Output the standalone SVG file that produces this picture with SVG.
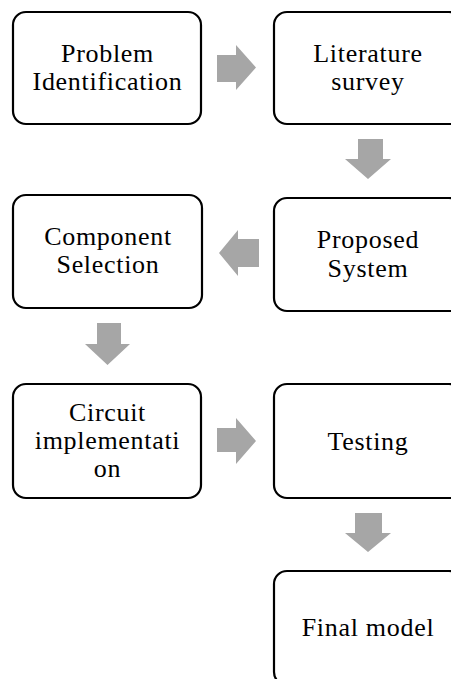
<svg xmlns="http://www.w3.org/2000/svg" width="451" height="679" viewBox="0 0 451 679">
<style>
.box{fill:#fff;stroke:#000;stroke-width:2.2}
.lbl{font-family:"Liberation Serif","Times New Roman",serif;font-size:26px;letter-spacing:0.7px;fill:#000;text-anchor:middle}
.arr{fill:#a6a6a6}
</style>
<rect width="451" height="679" fill="#fff"/>
<g id="connectors">
<polygon class="arr" points="217,55 236,55 236,45 256,67.5 236,90 236,82 217,82"/>
<polygon class="arr" points="358,139 383,139 383,159 391,159 368,179 345,159 358,159"/>
<polygon class="arr" points="259,239 238,239 238,230 219,253 238,276 238,267 259,267"/>
<polygon class="arr" points="97,323 121,323 121,344 130,344 107.5,365 85,344 97,344"/>
<polygon class="arr" points="217,428 236,428 236,418 256,441 236,464 236,452 217,452"/>
<polygon class="arr" points="355,513 382,513 382,533 391,533 368,552 345,533 355,533"/>
</g>
<g id="n1"><rect class="box" x="13" y="12" width="188" height="112" rx="13"/>
<text class="lbl" x="107.5" y="62">Problem</text><text class="lbl" x="107.5" y="90">Identification</text></g>
<g id="n2"><rect class="box" x="274" y="12" width="188" height="112" rx="13"/>
<text class="lbl" x="368" y="62">Literature</text><text class="lbl" x="368" y="90">survey</text></g>
<g id="n3"><rect class="box" x="274" y="198" width="188" height="113" rx="13"/>
<text class="lbl" x="368" y="248">Proposed</text><text class="lbl" x="368" y="277">System</text></g>
<g id="n4"><rect class="box" x="13" y="195" width="189" height="113" rx="13"/>
<text class="lbl" x="108" y="245">Component</text><text class="lbl" x="108" y="273">Selection</text></g>
<g id="n5"><rect class="box" x="13" y="384" width="188" height="114" rx="13"/>
<text class="lbl" x="107.5" y="421">Circuit</text><text class="lbl" x="107.5" y="449">implementati</text><text class="lbl" x="107.5" y="477">on</text></g>
<g id="n6"><rect class="box" x="274" y="384" width="188" height="114" rx="13"/>
<text class="lbl" x="368" y="450">Testing</text></g>
<g id="n7"><rect class="box" x="274" y="571" width="188" height="114" rx="13"/>
<text class="lbl" x="368" y="636">Final model</text></g>
</svg>
